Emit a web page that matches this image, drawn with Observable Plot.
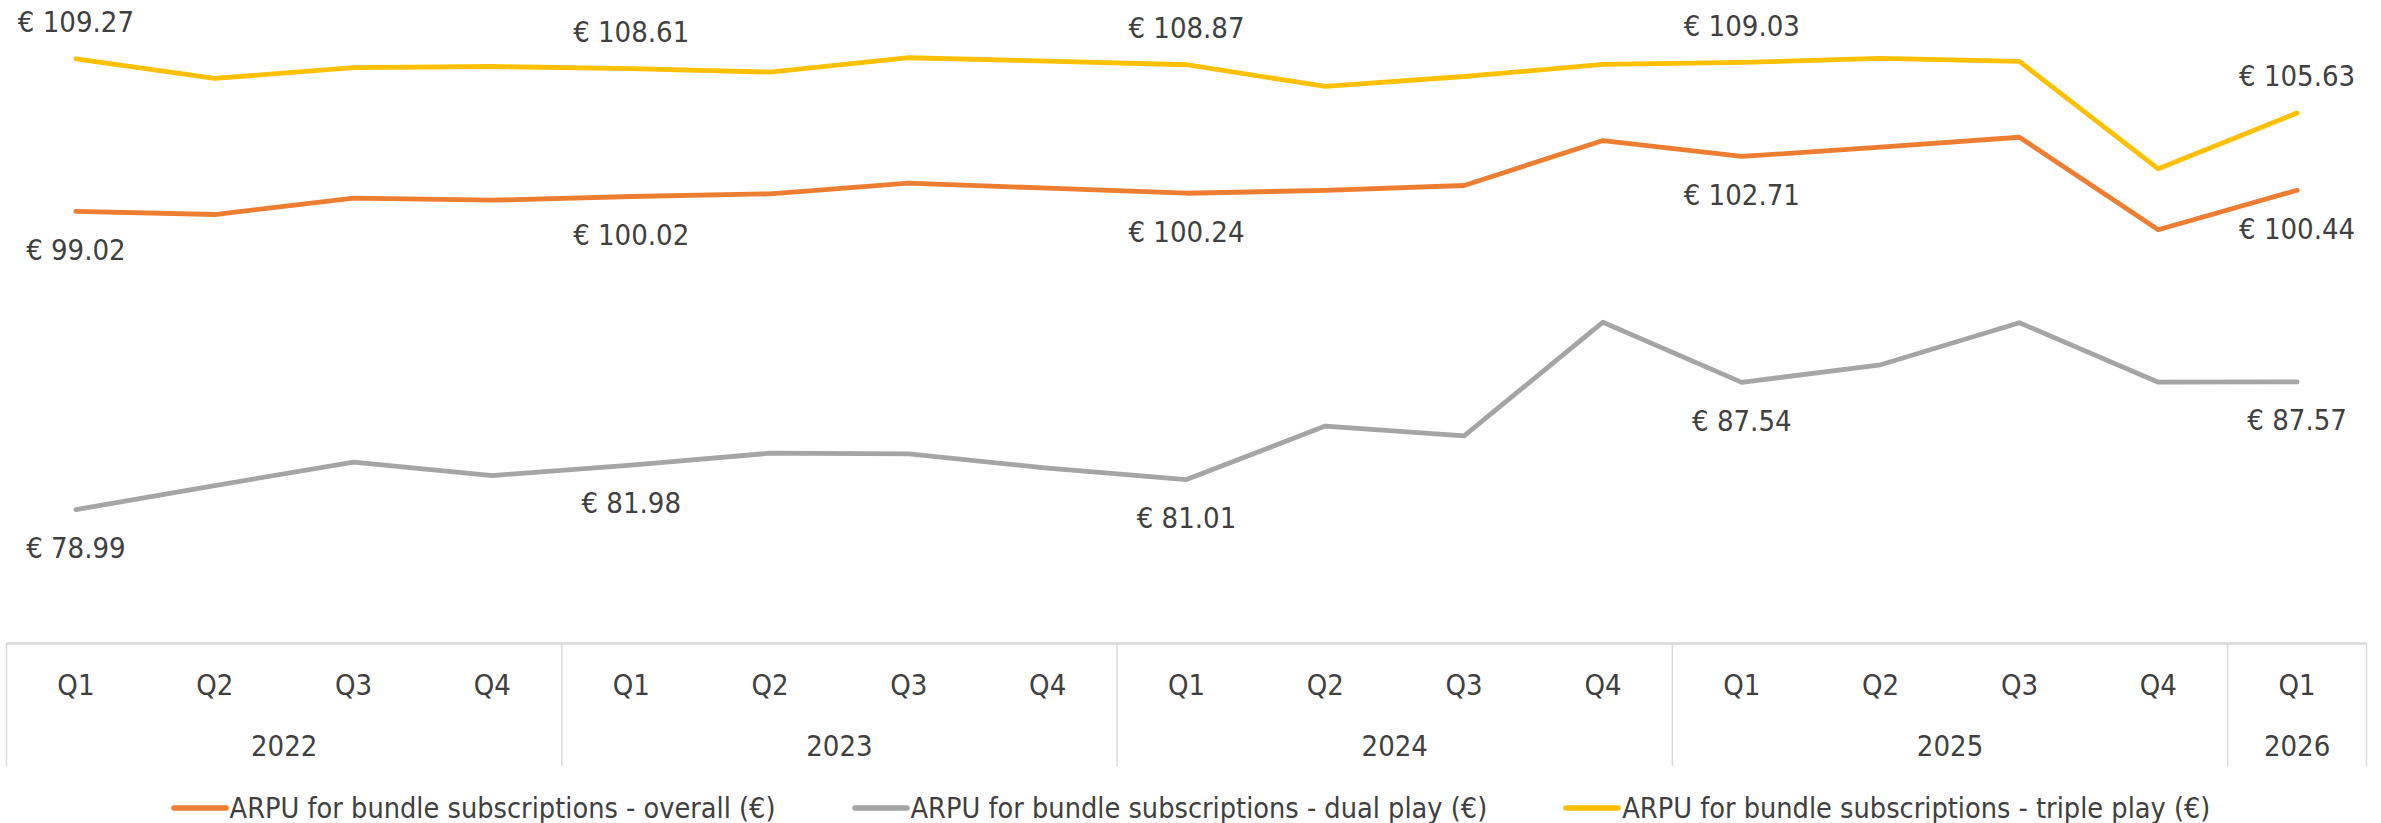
<!DOCTYPE html>
<html>
<head>
<meta charset="utf-8">
<script src="https://cdn.jsdelivr.net/npm/d3@7"></script>
<script src="https://cdn.jsdelivr.net/npm/@observablehq/plot@0.6"></script>
<style>
  html, body { margin: 0; padding: 0; background: #ffffff; }
  body { font-family: "Liberation Sans Narrow", "DejaVu Sans Condensed", "Roboto", sans-serif; color: #404040; }
  #legend { display: flex; justify-content: center; align-items: center; gap: 76px; height: 66px; font-size: 28.6px; color: #404040; padding-left: 0; }
  .item { display: flex; align-items: center; white-space: nowrap; }
  .item svg { margin-right: 1px; }
</style>
</head>
<body>
<div id="chart"></div>
<div id="legend"></div>
<script>
const quarters = ["Q1","Q2","Q3","Q4","Q1","Q2","Q3","Q4","Q1","Q2","Q3","Q4","Q1","Q2","Q3","Q4","Q1"];
const years = ["2022","2023","2024","2025","2026"];
const yearFirst = [0, 4, 8, 12, 16];
const yearLast = [3, 7, 11, 15, 16];

const seriesNames = [
  "ARPU for bundle subscriptions - overall (€)",
  "ARPU for bundle subscriptions - dual play (€)",
  "ARPU for bundle subscriptions - triple play (€)"
];
const seriesColors = ["#ED7D31", "#A5A5A5", "#FFC000"];

const overall = [99.02, 98.81, 99.91, 99.77, 100.02, 100.20, 100.92, 100.58, 100.24, 100.43, 100.76, 103.78, 102.71, 103.33, 104.00, 97.79, 100.44];
const dualPlay = [78.99, 80.61, 82.18, 81.28, 81.98, 82.78, 82.74, 81.78, 81.01, 84.60, 83.95, 91.58, 87.54, 88.72, 91.54, 87.55, 87.57];
const triplePlay = [109.27, 107.95, 108.67, 108.75, 108.61, 108.37, 109.34, 109.11, 108.87, 107.41, 108.08, 108.89, 109.03, 109.29, 109.09, 101.88, 105.63];

const labeledIdx = [0, 4, 8, 12, 16];

const allSeries = [overall, dualPlay, triplePlay];
const rows = [];
allSeries.forEach((vals, s) => vals.forEach((v, i) => rows.push({i, value: v, series: seriesNames[s]})));
const labelRows = rows.filter(d => labeledIdx.includes(d.i));
const fmt = d => "€ " + d.value.toFixed(2);

const idx = d3.range(quarters.length);
const boundaries = [yearFirst[0] - 0.5, ...yearLast.map(l => l + 0.5)];
const yearCenters = yearFirst.map((f, k) => (f + yearLast[k]) / 2);

const FONT = "\"Liberation Sans Narrow\", \"DejaVu Sans Condensed\", Roboto, sans-serif";

const chart = Plot.plot({
  width: 2381,
  height: 775,
  marginLeft: 6,
  marginRight: 15,
  marginTop: 47.4,
  marginBottom: 132,
  style: {fontFamily: FONT, fontSize: "29px", color: "#404040", background: "#ffffff", overflow: "visible"},
  x: {type: "linear", domain: [-0.5, quarters.length - 0.5], axis: null, label: null},
  y: {domain: [70, 110], axis: null, label: null},
  color: {domain: seriesNames, range: seriesColors},
  marks: [
    Plot.ruleY([70], {stroke: "#d9d9d9", strokeWidth: 2.5}),
    Plot.axisX({ticks: boundaries, tickSize: 123, tickFormat: () => "", label: null, stroke: "#d9d9d9", strokeWidth: 1.5}),
    Plot.axisX({ticks: idx, tickSize: 0, tickPadding: 31, tickFormat: d => quarters[d], label: null, fontSize: 29, fill: "#404040"}),
    Plot.axisX({ticks: yearCenters, tickSize: 0, tickPadding: 92, tickFormat: d => years[yearCenters.indexOf(d)], label: null, fontSize: 29, fill: "#404040"}),
    Plot.line(rows, {x: "i", y: "value", z: "series", stroke: "series", strokeWidth: 4.8, strokeLinejoin: "round", strokeLinecap: "round"}),
    Plot.text(labelRows.filter(d => d.series === seriesNames[2]), {x: "i", y: "value", text: fmt, dy: -36, lineAnchor: "middle", fill: "#404040", fontSize: 29}),
    Plot.text(labelRows.filter(d => d.series !== seriesNames[2]), {x: "i", y: "value", text: fmt, dy: 39, lineAnchor: "middle", fill: "#404040", fontSize: 29})
  ]
});
document.getElementById("chart").appendChild(chart);

const legend = document.getElementById("legend");
seriesNames.forEach((name, k) => {
  const item = document.createElement("div");
  item.className = "item";
  item.innerHTML = `<svg width="58" height="12"><line x1="3" y1="6" x2="55" y2="6" stroke="${seriesColors[k]}" stroke-width="5.5" stroke-linecap="round"/></svg><span>${name}</span>`;
  legend.appendChild(item);
});
</script>
</body>
</html>
